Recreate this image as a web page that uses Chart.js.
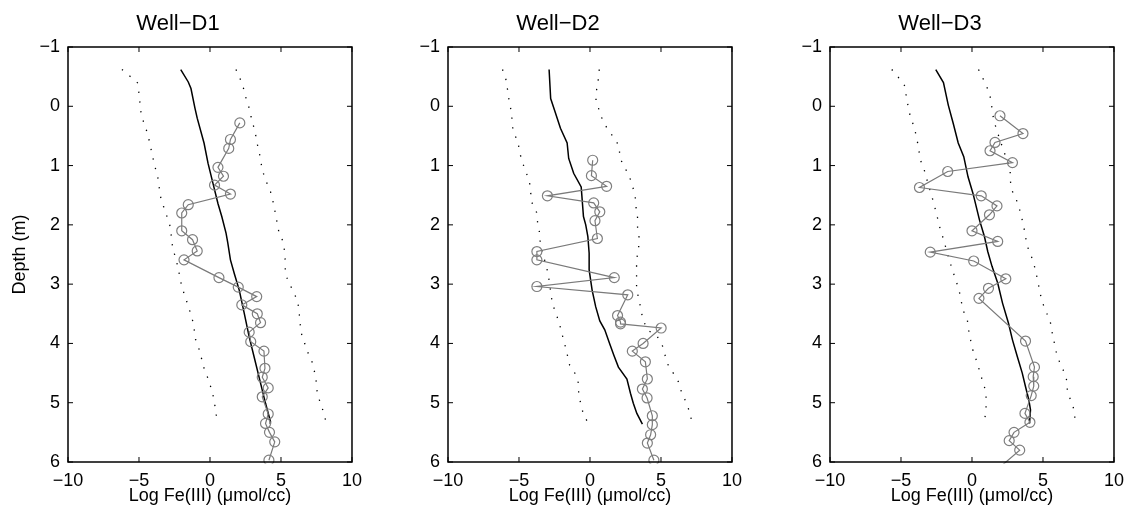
<!DOCTYPE html>
<html>
<head>
<meta charset="utf-8">
<title>Log Fe(III) depth profiles</title>
<script src="https://cdn.jsdelivr.net/npm/chart.js@4.4.1/dist/chart.umd.min.js"></script>
<style>
  html, body { margin: 0; padding: 0; background: #fff; }
  body { width: 1131px; height: 513px; overflow: hidden; position: relative; }
  canvas { position: absolute; top: 0; }
</style>
</head>
<body>
<canvas id="wellD1" width="370" height="513" style="left:0px"></canvas>
<canvas id="wellD2" width="370" height="513" style="left:380px"></canvas>
<canvas id="wellD3" width="370" height="513" style="left:762px"></canvas>
<script>
// ---- tick labels / axis ranges ----
const xTicks = [-10, -5, 0, 5, 10];
const yTicks = [-1, 0, 1, 2, 3, 4, 5, 6];
const wellNames = ["Well\u2212D1", "Well\u2212D2", "Well\u2212D3"];

// ---- Well-D1 ----
const d1ObsDepth = [0.28, 0.56, 0.71, 1.03, 1.18, 1.33, 1.48, 1.66, 1.80, 2.10, 2.25, 2.44, 2.59, 2.89, 3.05, 3.21, 3.35, 3.50, 3.65, 3.81, 3.97, 4.13, 4.42, 4.57, 4.75, 4.90, 5.19, 5.35, 5.50, 5.66, 5.97];
const d1ObsFe    = [2.10, 1.44, 1.32, 0.56, 0.95, 0.32, 1.44, -1.53, -1.99, -1.99, -1.23, -0.90, -1.83, 0.63, 1.99, 3.29, 2.24, 3.33, 3.56, 2.76, 2.87, 3.80, 3.87, 3.68, 4.10, 3.68, 4.10, 3.91, 4.19, 4.56, 4.15];
const d1ModelDepth = [-0.62, -0.41, -0.30, 0.03, 0.20, 0.62, 0.96, 1.30, 1.64, 1.86, 2.14, 2.30, 2.59, 2.82, 3.10, 3.49, 3.89, 4.22, 4.67, 5.01, 5.32, 5.36];
const d1ModelFe    = [-2.06, -1.53, -1.34, -1.06, -0.90, -0.42, -0.14, 0.21, 0.56, 0.83, 1.13, 1.25, 1.44, 1.71, 2.06, 2.41, 2.76, 3.10, 3.56, 3.91, 4.26, 4.25];
const d1LowDepth = [-0.62, -0.51, -0.39, 0.15, 0.48, 0.68, 0.99, 1.19, 1.52, 1.70, 1.86, 2.03, 2.37, 2.70, 3.04, 3.24, 3.41, 3.58, 3.77, 3.93, 4.08, 4.25, 4.42, 4.59, 4.76, 4.94, 5.29];
const d1LowFe    = [-6.20, -5.65, -5.08, -4.84, -4.37, -4.19, -3.91, -3.68, -3.49, -3.26, -3.03, -2.80, -2.64, -2.27, -1.99, -1.71, -1.48, -1.25, -1.11, -1.02, -0.79, -0.60, -0.42, -0.14, 0.09, 0.28, 0.49];
const d1HighDepth = [-0.62, -0.46, -0.27, -0.10, 0.07, 0.24, 0.41, 0.60, 0.75, 1.07, 1.24, 1.44, 1.61, 1.80, 2.11, 2.27, 2.45, 2.62, 2.82, 2.96, 3.13, 3.29, 3.46, 3.63, 3.80, 4.00, 4.17, 4.33, 4.50, 4.67, 4.84, 5.01, 5.18, 5.35];
const d1HighFe    = [1.83, 2.13, 2.41, 2.57, 2.82, 2.94, 3.17, 3.29, 3.45, 3.68, 3.91, 4.26, 4.44, 4.60, 4.84, 5.12, 5.26, 5.30, 5.30, 5.53, 5.88, 6.18, 6.27, 6.34, 6.39, 6.67, 6.92, 7.22, 7.38, 7.50, 7.55, 7.78, 8.03, 8.19];

// ---- Well-D2 ----
const d2ObsDepth = [0.91, 1.17, 1.35, 1.51, 1.63, 1.78, 1.93, 2.23, 2.45, 2.59, 2.89, 3.04, 3.18, 3.53, 3.64, 3.67, 3.74, 4.00, 4.13, 4.31, 4.60, 4.77, 4.92, 5.22, 5.37, 5.54, 5.68, 5.97];
const d2ObsFe    = [0.19, 0.10, 1.17, -3.00, 0.26, 0.69, 0.35, 0.52, -3.74, -3.74, 1.71, -3.74, 2.66, 1.94, 2.15, 2.15, 5.01, 3.74, 2.98, 3.90, 4.04, 3.69, 4.02, 4.39, 4.39, 4.27, 4.04, 4.50];
const d2ModelDepth = [-0.62, -0.13, 0.12, 0.37, 0.62, 0.88, 1.13, 1.36, 1.86, 2.00, 2.20, 2.48, 2.76, 3.10, 3.38, 3.62, 3.77, 4.00, 4.20, 4.40, 4.60, 4.84, 5.01, 5.18, 5.36];
const d2ModelFe    = [-2.88, -2.77, -2.42, -2.08, -1.61, -1.50, -1.15, -0.62, -0.46, -0.30, -0.15, -0.06, -0.06, 0.15, 0.40, 0.69, 1.04, 1.38, 1.68, 2.00, 2.60, 2.85, 3.05, 3.30, 3.69];
const d2LowDepth = [-0.62, -0.45, -0.27, -0.08, 0.09, 0.42, 0.60, 0.77, 0.94, 1.11, 1.28, 1.62, 1.79, 1.96, 2.11, 2.31, 2.82, 3.33, 3.51, 3.68, 3.85, 4.02, 4.19, 4.37, 4.51, 4.68, 4.86, 5.03, 5.20, 5.35];
const d2LowFe    = [-6.16, -5.92, -5.80, -5.69, -5.54, -5.42, -5.07, -4.96, -4.77, -4.50, -4.26, -4.10, -3.76, -3.69, -3.57, -3.50, -2.95, -2.65, -2.37, -2.14, -1.96, -1.77, -1.60, -1.43, -1.04, -0.80, -0.80, -0.64, -0.46, -0.11];
const d2HighDepth = [-0.62, -0.45, -0.27, -0.10, 0.07, 0.23, 0.40, 0.54, 0.69, 0.86, 1.02, 1.18, 1.35, 1.51, 1.68, 1.88, 2.05, 2.22, 2.42, 2.58, 2.76, 2.93, 3.10, 3.26, 3.43, 3.60, 3.77, 3.88, 4.02, 4.22, 4.39, 4.53, 4.67, 4.84, 5.01, 5.18, 5.35];
const d2HighFe    = [0.65, 0.58, 0.46, 0.42, 0.65, 0.88, 1.27, 1.73, 2.08, 2.08, 2.42, 2.77, 3.00, 3.18, 3.23, 3.35, 3.35, 3.46, 3.42, 3.28, 3.28, 3.28, 3.28, 3.46, 3.58, 3.74, 4.04, 4.73, 5.08, 5.31, 5.54, 5.95, 6.28, 6.46, 6.81, 7.04, 7.20];

// ---- Well-D3 ----
const d3ObsDepth = [0.16, 0.46, 0.61, 0.75, 0.95, 1.10, 1.37, 1.51, 1.68, 1.83, 2.10, 2.28, 2.46, 2.61, 2.91, 3.07, 3.24, 3.96, 4.40, 4.56, 4.72, 4.88, 5.18, 5.33, 5.50, 5.64, 5.80, 6.15];
const d3ObsFe    = [1.97, 3.59, 1.62, 1.27, 2.85, -1.71, -3.70, 0.65, 1.76, 1.23, 0.00, 1.81, -2.94, 0.12, 2.38, 1.16, 0.49, 3.77, 4.40, 4.31, 4.35, 4.17, 3.73, 4.08, 2.96, 2.62, 3.36, 1.66];
const d3ModelDepth = [-0.62, -0.40, -0.02, 0.29, 0.62, 0.85, 1.19, 1.47, 1.92, 2.20, 2.45, 2.70, 2.98, 3.32, 3.66, 3.94, 4.22, 4.50, 4.73, 4.95, 5.12, 5.35];
const d3ModelFe    = [-2.55, -2.01, -1.67, -1.32, -0.97, -0.58, -0.28, 0.07, 0.53, 0.88, 1.11, 1.41, 1.81, 2.15, 2.57, 2.85, 3.19, 3.54, 3.77, 4.00, 4.12, 4.05];
const d3LowDepth = [-0.62, -0.49, -0.34, -0.17, 0.01, 0.19, 0.36, 0.53, 0.70, 0.88, 1.04, 1.20, 1.39, 1.56, 1.73, 1.90, 2.07, 2.24, 2.58, 2.75, 2.92, 3.09, 3.26, 3.44, 3.60, 3.78, 3.95, 4.12, 4.28, 4.46, 4.65, 4.82, 4.99, 5.16, 5.34];
const d3LowFe    = [-5.65, -5.19, -4.72, -4.63, -4.49, -4.33, -4.05, -3.91, -3.75, -3.68, -3.40, -3.22, -2.99, -2.78, -2.59, -2.41, -2.24, -2.01, -1.62, -1.39, -1.16, -0.92, -0.78, -0.63, -0.33, -0.23, -0.09, 0.07, 0.30, 0.53, 0.76, 0.99, 0.99, 0.99, 0.83];
const d3HighDepth = [-0.62, -0.45, -0.29, -0.11, 0.05, 0.23, 0.40, 0.73, 1.06, 1.24, 1.41, 1.58, 1.75, 1.92, 2.10, 2.27, 2.44, 2.60, 2.77, 2.94, 3.12, 3.29, 3.46, 3.63, 3.80, 3.98, 4.14, 4.31, 4.48, 4.65, 4.82, 4.99, 5.16, 5.34];
const d3HighFe    = [0.46, 0.81, 1.11, 1.34, 1.41, 1.53, 1.74, 2.20, 2.69, 2.69, 2.80, 3.13, 3.36, 3.54, 3.70, 3.82, 4.00, 4.30, 4.47, 4.63, 4.77, 4.93, 5.21, 5.51, 5.63, 5.79, 5.93, 6.16, 6.48, 6.71, 6.71, 7.01, 7.24, 7.24];

const wells = [
  { id: "wellD1", obs: [d1ObsFe, d1ObsDepth], model: [d1ModelFe, d1ModelDepth], low: [d1LowFe, d1LowDepth], high: [d1HighFe, d1HighDepth] },
  { id: "wellD2", obs: [d2ObsFe, d2ObsDepth], model: [d2ModelFe, d2ModelDepth], low: [d2LowFe, d2LowDepth], high: [d2HighFe, d2HighDepth] },
  { id: "wellD3", obs: [d3ObsFe, d3ObsDepth], model: [d3ModelFe, d3ModelDepth], low: [d3LowFe, d3LowDepth], high: [d3HighFe, d3HighDepth] }
];

Chart.defaults.font.family = '"Liberation Sans", Arial, Helvetica, sans-serif';
Chart.defaults.color = "#000";

const TICK_LEN = 5;

function toPoints(fe, depth) {
  return fe.map((v, i) => ({ x: v, y: depth[i] }));
}

function minusLabel(v) {
  return v < 0 ? "\u2212" + Math.abs(v) : String(v);
}

// box around the plot area with inward ticks on all four sides
const frameTicksPlugin = {
  id: "frameTicks",
  afterDraw(chart) {
    const { ctx, chartArea: a, scales } = chart;
    ctx.save();
    ctx.strokeStyle = "#000";
    ctx.lineWidth = 1.5;
    ctx.strokeRect(a.left, a.top, a.right - a.left, a.bottom - a.top);
    ctx.lineWidth = 1;
    ctx.beginPath();
    scales.x.ticks.forEach(t => {
      const px = scales.x.getPixelForValue(t.value);
      ctx.moveTo(px, a.bottom);
      ctx.lineTo(px, a.bottom - TICK_LEN);
      ctx.moveTo(px, a.top);
      ctx.lineTo(px, a.top + TICK_LEN);
    });
    scales.y.ticks.forEach(t => {
      const py = scales.y.getPixelForValue(t.value);
      ctx.moveTo(a.left, py);
      ctx.lineTo(a.left + TICK_LEN, py);
      ctx.moveTo(a.right, py);
      ctx.lineTo(a.right - TICK_LEN, py);
    });
    ctx.stroke();
    ctx.restore();
  }
};

function dottedSet(pair) {
  return {
    data: toPoints(pair[0], pair[1]),
    showLine: true,
    borderColor: "#000",
    borderWidth: 1.3,
    borderDash: [1.3, 8.5],
    pointRadius: 0,
    fill: false
  };
}

wells.forEach((well, wi) => {
  const canvas = document.getElementById(well.id);
  new Chart(canvas, {
    type: "scatter",
    data: {
      datasets: [
        {
          label: "measured",
          data: toPoints(well.obs[0], well.obs[1]),
          showLine: true,
          borderColor: "#7a7a7a",
          borderWidth: 1.2,
          pointStyle: "circle",
          pointRadius: 5,
          pointBorderWidth: 1.2,
          pointBorderColor: "#7f7f7f",
          pointBackgroundColor: "rgba(0,0,0,0)",
          clip: { left: 8, right: 8, top: 8, bottom: 1.5 }
        },
        {
          label: "model",
          data: toPoints(well.model[0], well.model[1]),
          showLine: true,
          borderColor: "#000",
          borderWidth: 1.5,
          pointRadius: 0
        },
        dottedSet(well.low),
        dottedSet(well.high)
      ]
    },
    options: {
      responsive: false,
      animation: false,
      events: [],
      layout: { padding: { left: 0, right: 14, top: 0, bottom: 0 } },
      plugins: {
        legend: { display: false },
        tooltip: { enabled: false },
        title: {
          display: true,
          text: wellNames[wi],
          color: "#000",
          font: { size: 22, weight: "normal" },
          padding: { top: 11, bottom: 9.6 }
        }
      },
      scales: {
        x: {
          type: "linear",
          min: xTicks[0],
          max: xTicks[xTicks.length - 1],
          afterBuildTicks(scale) { scale.ticks = xTicks.map(v => ({ value: v })); },
          afterFit(scale) { scale.height = 51; },
          grid: { display: false, drawTicks: false },
          border: { display: false },
          ticks: { font: { size: 18 }, padding: 8, maxRotation: 0, callback: minusLabel },
          title: {
            display: true,
            text: "Log Fe(III) (\u03bcmol/cc)",
            font: { size: 18 },
            padding: { top: 0, bottom: 6.5 }
          }
        },
        y: {
          type: "linear",
          reverse: true,
          min: yTicks[0],
          max: yTicks[yTicks.length - 1],
          afterBuildTicks(scale) { scale.ticks = yTicks.map(v => ({ value: v })); },
          afterFit(scale) { scale.width = 68; },
          grid: { display: false, drawTicks: false },
          border: { display: false },
          ticks: { font: { size: 18 }, padding: 8, callback: minusLabel },
          title: {
            display: wi === 0,
            text: "Depth (m)",
            font: { size: 18 },
            padding: { top: 9, bottom: 0 }
          }
        }
      }
    },
    plugins: [frameTicksPlugin]
  });
});
</script>
</body>
</html>
